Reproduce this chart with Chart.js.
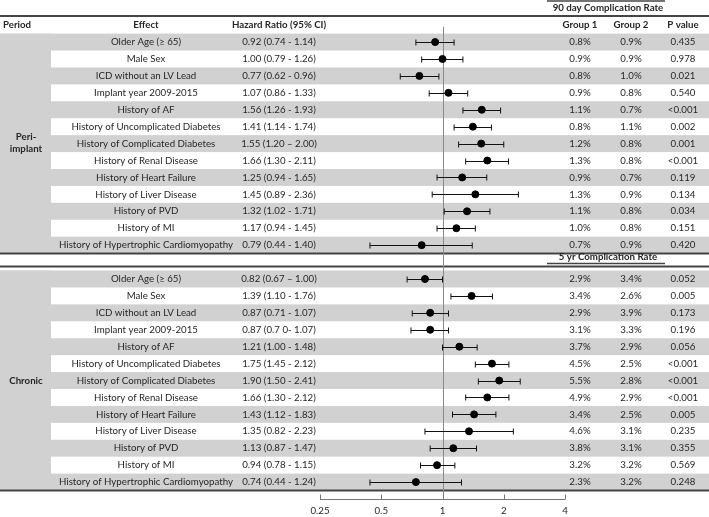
<!DOCTYPE html>
<html>
<head>
<meta charset="utf-8">
<script src="https://cdn.jsdelivr.net/npm/chart.js@4.4.0/dist/chart.umd.min.js"></script>
<style>
  html, body { margin: 0; padding: 0; background: #fff; }
  #wrap { width: 709px; height: 517px; }
</style>
</head>
<body>
<div id="wrap"><canvas id="forest" width="709" height="517"></canvas></div>
<script>
const FONT = 'Lato, "Open Sans", sans-serif';
const FSIZE = 9.7;

const effects = [
    'Older Age (\u2265 65)', 'Male Sex', 'ICD without an LV Lead', 'Implant year 2009-2015',
    'History of AF', 'History of Uncomplicated Diabetes', 'History of Complicated Diabetes',
    'History of Renal Disease', 'History of Heart Failure', 'History of Liver Disease',
    'History of PVD', 'History of MI', 'History of Hypertrophic Cardiomyopathy'
];

// peri-implant (90 day)
const periHR = [0.92, 1.00, 0.77, 1.07, 1.56, 1.41, 1.55, 1.66, 1.25, 1.45, 1.32, 1.17, 0.79];
const periLo = [0.74, 0.79, 0.62, 0.86, 1.26, 1.14, 1.20, 1.30, 0.94, 0.89, 1.02, 0.94, 0.44];
const periHi = [1.14, 1.26, 0.96, 1.33, 1.93, 1.74, 2.00, 2.11, 1.65, 2.36, 1.71, 1.45, 1.40];
const periCI = [
    '0.92 (0.74 - 1.14)', '1.00 (0.79 - 1.26)', '0.77 (0.62 - 0.96)', '1.07 (0.86 - 1.33)',
    '1.56 (1.26 - 1.93)', '1.41 (1.14 - 1.74)', '1.55 (1.20 \u2013 2.00)', '1.66 (1.30 - 2.11)',
    '1.25 (0.94 - 1.65)', '1.45 (0.89 - 2.36)', '1.32 (1.02 - 1.71)', '1.17 (0.94 - 1.45)',
    '0.79 (0.44 - 1.40)'
];
const periG1 = ['0.8%', '0.9%', '0.8%', '0.9%', '1.1%', '0.8%', '1.2%', '1.3%', '0.9%', '1.3%', '1.1%', '1.0%', '0.7%'];
const periG2 = ['0.9%', '0.9%', '1.0%', '0.8%', '0.7%', '1.1%', '0.8%', '0.8%', '0.7%', '0.9%', '0.8%', '0.8%', '0.9%'];
const periP = ['0.435', '0.978', '0.021', '0.540', '<0.001', '0.002', '0.001', '<0.001', '0.119', '0.134', '0.034', '0.151', '0.420'];

// chronic (5 yr)
const chronHR = [0.82, 1.39, 0.87, 0.87, 1.21, 1.75, 1.90, 1.66, 1.43, 1.35, 1.13, 0.94, 0.74];
const chronLo = [0.67, 1.10, 0.71, 0.70, 1.00, 1.45, 1.50, 1.30, 1.12, 0.82, 0.87, 0.78, 0.44];
const chronHi = [1.00, 1.76, 1.07, 1.07, 1.48, 2.12, 2.41, 2.12, 1.83, 2.23, 1.47, 1.15, 1.24];
const chronCI = [
    '0.82 (0.67 \u2013 1.00)', '1.39 (1.10 - 1.76)', '0.87 (0.71 - 1.07)', '0.87 (0.7 0- 1.07)',
    '1.21 (1.00 - 1.48)', '1.75 (1.45 - 2.12)', '1.90 (1.50 - 2.41)', '1.66 (1.30 - 2.12)',
    '1.43 (1.12 - 1.83)', '1.35 (0.82 - 2.23)', '1.13 (0.87 - 1.47)', '0.94 (0.78 - 1.15)',
    '0.74 (0.44 - 1.24)'
];
const chronG1 = ['2.9%', '3.4%', '2.9%', '3.1%', '3.7%', '4.5%', '5.5%', '4.9%', '3.4%', '4.6%', '3.8%', '3.2%', '2.3%'];
const chronG2 = ['3.4%', '2.6%', '3.9%', '3.3%', '2.9%', '2.5%', '2.8%', '2.9%', '2.5%', '3.1%', '3.1%', '3.2%', '3.2%'];
const chronP = ['0.052', '0.005', '0.173', '0.196', '0.056', '<0.001', '<0.001', '<0.001', '0.005', '0.235', '0.355', '0.569', '0.248'];

const xTicks = [0.25, 0.5, 1, 2, 4];

// row index: peri 0..12, gap 13, chronic 14..26
const CHRON_OFFSET = 14;
const rows = [];
effects.forEach((e, i) => rows.push({ idx: i, effect: e, hr: periHR[i], lo: periLo[i], hi: periHi[i], ci: periCI[i], g1: periG1[i], g2: periG2[i], p: periP[i] }));
effects.forEach((e, i) => rows.push({ idx: i + CHRON_OFFSET, effect: e, hr: chronHR[i], lo: chronLo[i], hi: chronHi[i], ci: chronCI[i], g1: chronG1[i], g2: chronG2[i], p: chronP[i] }));

const COL = { period: 26, effect: 146, hr: 279, g1: 580, g2: 631, p: 683 };
const GRAY = '#d1d1d1';
const TXT = '#262626';

function hline(ctx, x1, x2, y, w, color) {
    ctx.save();
    ctx.strokeStyle = color;
    ctx.lineWidth = w;
    ctx.beginPath();
    ctx.moveTo(x1, y);
    ctx.lineTo(x2, y);
    ctx.stroke();
    ctx.restore();
}

function text(ctx, str, x, y, align, bold) {
    ctx.font = (bold ? 'bold ' : '') + FSIZE + 'px ' + FONT;
    ctx.textAlign = align || 'center';
    ctx.textBaseline = 'middle';
    ctx.fillStyle = TXT;
    ctx.fillText(str, x, y);
}

const tablePlugin = {
    id: 'table',
    beforeDatasetsDraw(chart) {
        const { ctx, scales: { x, y } } = chart;
        const W = chart.width;
        const top = i => y.getPixelForValue(i - 0.5);
        const bot = i => y.getPixelForValue(i + 0.5);

        // striped rows
        ctx.save();
        ctx.fillStyle = GRAY;
        rows.forEach((r, k) => {
            if ((k % 13) % 2 === 0) ctx.fillRect(0, top(r.idx), W, bot(r.idx) - top(r.idx));
        });
        // period column
        ctx.fillRect(0, top(0), 51, bot(12) - top(0));
        ctx.fillRect(0, top(CHRON_OFFSET), 51, bot(CHRON_OFFSET + 12) - top(CHRON_OFFSET));
        ctx.restore();

        // rules
        hline(ctx, 547, 665, 1, 1.5, '#444');
        hline(ctx, 0, W, 16, 2, '#444');
        hline(ctx, 0, W, bot(12), 2, '#444');
        hline(ctx, 547, 665, 263.5, 1.5, '#444');
        hline(ctx, 0, W, top(CHRON_OFFSET) - 4, 2, '#444');
        hline(ctx, 0, W, bot(CHRON_OFFSET + 12), 2, '#444');

        // headers
        text(ctx, '90 day Complication Rate', 608, 8, 'center', true);
        const hy = y.getPixelForValue(-1);
        text(ctx, 'Period', 3, hy, 'left', true);
        text(ctx, 'Effect', COL.effect, hy, 'center', true);
        text(ctx, 'Hazard Ratio (95% CI)', COL.hr, hy, 'center', true);
        text(ctx, 'Group 1', COL.g1, hy, 'center', true);
        text(ctx, 'Group 2', COL.g2, hy, 'center', true);
        text(ctx, 'P value', COL.p, hy, 'center', true);
        text(ctx, '5 yr Complication Rate', 608, 257, 'center', true);

        // period labels
        const pc = y.getPixelForValue(6);
        text(ctx, 'Peri-', COL.period, pc - 7, 'center', true);
        text(ctx, 'implant', COL.period, pc + 5, 'center', true);
        text(ctx, 'Chronic', COL.period, y.getPixelForValue(CHRON_OFFSET + 6), 'center', true);

        // cells
        rows.forEach(r => {
            const cy = y.getPixelForValue(r.idx);
            text(ctx, r.effect, COL.effect, cy);
            text(ctx, r.ci, COL.hr, cy);
            text(ctx, r.g1, COL.g1, cy);
            text(ctx, r.g2, COL.g2, cy);
            text(ctx, r.p, COL.p, cy);
        });

        // reference line at HR = 1
        const x1 = Math.round(x.getPixelForValue(1)) + 0.5;
        ctx.save();
        ctx.strokeStyle = '#8a8a8a';
        ctx.lineWidth = 1;
        ctx.beginPath();
        ctx.moveTo(x1, y.getPixelForValue(-0.9));
        ctx.lineTo(x1, chart.chartArea.bottom);
        ctx.stroke();

        // confidence intervals
        ctx.strokeStyle = '#111';
        rows.forEach(r => {
            const cy = Math.round(y.getPixelForValue(r.idx)) + 0.5;
            const a = x.getPixelForValue(r.lo);
            const b = x.getPixelForValue(r.hi);
            ctx.beginPath();
            ctx.moveTo(a, cy); ctx.lineTo(b, cy);
            ctx.moveTo(a, cy - 3); ctx.lineTo(a, cy + 3);
            ctx.moveTo(b, cy - 3); ctx.lineTo(b, cy + 3);
            ctx.stroke();
        });

        // x axis line with upward ticks
        const ay = chart.chartArea.bottom + 0.5;
        ctx.strokeStyle = '#777';
        ctx.beginPath();
        ctx.moveTo(x.getPixelForValue(xTicks[0]), ay);
        ctx.lineTo(x.getPixelForValue(xTicks[xTicks.length - 1]), ay);
        xTicks.forEach(v => {
            const px = Math.round(x.getPixelForValue(v)) + 0.5;
            ctx.moveTo(px, ay); ctx.lineTo(px, ay - 5);
        });
        ctx.stroke();
        ctx.restore();
    }
};

const ctx = document.getElementById('forest').getContext('2d');
const forestChart = new Chart(ctx, {
    type: 'scatter',
    data: {
        datasets: [{
            data: rows.map(r => ({ x: r.hr, y: r.idx })),
            backgroundColor: '#000',
            borderColor: '#000',
            pointRadius: 3.5,
            pointHoverRadius: 3.5
        }]
    },
    options: {
        responsive: false,
        animation: false,
        devicePixelRatio: 1,
        layout: { padding: { left: 320, right: 144, top: 16, bottom: 0 } },
        plugins: { legend: { display: false }, tooltip: { enabled: false } },
        scales: {
            x: {
                type: 'logarithmic',
                min: 0.25,
                max: 4,
                afterBuildTicks: scale => { scale.ticks = xTicks.map(v => ({ value: v })); },
                afterFit: scale => { scale.height = 18; },
                grid: { display: false, drawTicks: false },
                border: { display: false },
                ticks: {
                    padding: 6,
                    color: TXT,
                    font: { family: FONT, size: FSIZE },
                    callback: v => String(v),
                    maxRotation: 0,
                    autoSkip: false
                }
            },
            y: {
                display: false,
                reverse: true,
                min: -1.54,
                max: 27.0
            }
        }
    },
    plugins: [tablePlugin]
});
</script>
</body>
</html>
